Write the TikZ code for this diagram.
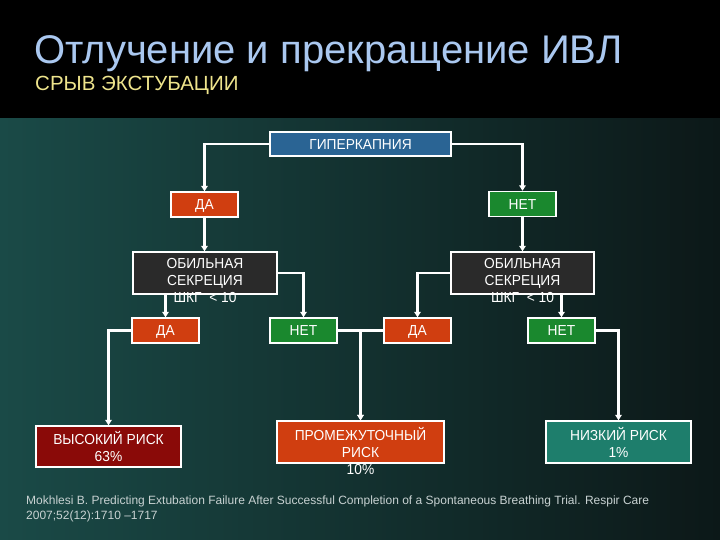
\documentclass[tikz,border=0pt]{standalone}
\usepackage{fontspec}
\setmainfont{Liberation Sans}
\newfontfamily\boxfont[FakeStretch=0.95]{Liberation Sans}
\usetikzlibrary{arrows.meta}
\definecolor{titlecol}{RGB}{170,200,240}
\definecolor{subcol}{RGB}{238,228,140}
\definecolor{bgleft}{RGB}{26,74,71}
\definecolor{bgright}{RGB}{12,24,24}
\definecolor{hypcol}{RGB}{42,100,148}
\definecolor{dacol}{RGB}{208,62,16}
\definecolor{netcol}{RGB}{26,136,46}
\definecolor{obcol}{RGB}{42,42,42}
\definecolor{highcol}{RGB}{138,10,8}
\definecolor{lowcol}{RGB}{30,126,108}
\definecolor{footcol}{RGB}{200,210,210}
\tikzset{
  box/.style={draw=white, line width=1.4pt, inner sep=0pt, text=white,
    font=\boxfont\fontsize{14.5}{17}\selectfont, align=center},
  sbox/.style={box, text height=10.4pt, text depth=0pt},
  txt/.style={inner sep=0pt, text=white, font=\boxfont\fontsize{14.5}{17}\selectfont, align=center},
  arr/.style={draw=white, line width=2.2pt, -{Triangle[length=5.5pt,width=6.5pt]}},
}
\begin{document}
\begin{tikzpicture}[x=1pt,y=-1pt]
\useasboundingbox (0,0) rectangle (720,540);
\fill[black] (0,0) rectangle (720,119);
\shade[left color=bgleft, right color=bgright] (0,119) rectangle (720,540);
% titles
\node[anchor=base west, inner sep=0pt, text=titlecol, font=\fontsize{40}{48}\selectfont] (title) at (34,63.5) {Отлучение и прекращение ИВЛ};
\node[anchor=base west, inner sep=0pt, text=subcol, font=\fontsize{20.5}{24}\selectfont] (sub) at (35,91) {СРЫВ ЭКСТУБАЦИИ};
% boxes
\node[sbox, fill=hypcol, minimum width=181pt, minimum height=24pt] (hyp) at (360.5,144) {ГИПЕРКАПНИЯ};
\node[sbox, fill=dacol, minimum width=67pt, minimum height=25pt] (da1) at (204.5,204.5) {ДА};
\node[sbox, fill=netcol, minimum width=67pt, minimum height=25pt] (net1) at (522.5,204) {НЕТ};
\node[box, fill=obcol, minimum width=144pt, minimum height=42pt] (ob1) at (205,273) {};
\node[box, fill=obcol, minimum width=143pt, minimum height=42pt] (ob2) at (522.5,273) {};
\node[txt] (ob1t) at (205,281) {ОБИЛЬНАЯ\\СЕКРЕЦИЯ\\ШКГ~ <~10};
\node[txt] (ob2t) at (522.5,281) {ОБИЛЬНАЯ\\СЕКРЕЦИЯ\\ШКГ~ <~10};
\node[sbox, fill=dacol, minimum width=67pt, minimum height=25pt] (da2) at (165.5,330.5) {ДА};
\node[sbox, fill=netcol, minimum width=67pt, minimum height=25pt] (net2) at (303.5,330.5) {НЕТ};
\node[sbox, fill=dacol, minimum width=67pt, minimum height=25pt] (da3) at (417.5,330.5) {ДА};
\node[sbox, fill=netcol, minimum width=67pt, minimum height=25pt] (net3) at (561.5,330.5) {НЕТ};
\node[box, fill=highcol, minimum width=145pt, minimum height=41pt] (high) at (108.5,446.5) {ВЫСОКИЙ РИСК\\63\%};
\node[box, fill=dacol, minimum width=167pt, minimum height=42pt] (mid) at (360.5,442) {};
\node[txt] (midt) at (360.5,451) {ПРОМЕЖУТОЧНЫЙ\\РИСК\\10\%};
\node[box, fill=lowcol, minimum width=145pt, minimum height=42pt] (low) at (618.5,442) {НИЗКИЙ РИСК\\1\%};
% connectors
\draw[arr] (hyp.west) -| (da1.north);
\draw[arr] (hyp.east) -| (net1.north);
\draw[arr] (da1.south) -- (da1.south |- ob1.north);
\draw[arr] (net1.south) -- (net1.south |- ob2.north);
\draw[arr] (da2.north |- ob1.south) -- (da2.north);
\draw[arr] (ob1.east) -| (net2.north);
\draw[arr] (ob2.west) -| (da3.north);
\draw[arr] (net3.north |- ob2.south) -- (net3.north);
\draw[arr] (da2.west) -| (high.north);
\draw[arr] (net2.east) -| (mid.north);
\draw[arr] (da3.west) -| (mid.north);
\draw[arr] (net3.east) -| (low.north);
% footer
\node[anchor=base west, inner sep=0pt, text=footcol, font=\fontsize{12}{15}\selectfont, align=left] (foot) at (26,519) {Mokhlesi B. Predicting Extubation Failure After Successful Completion of a Spontaneous Breathing Trial. Respir Care\\2007;52(12):1710 –1717};
\end{tikzpicture}
\end{document}
